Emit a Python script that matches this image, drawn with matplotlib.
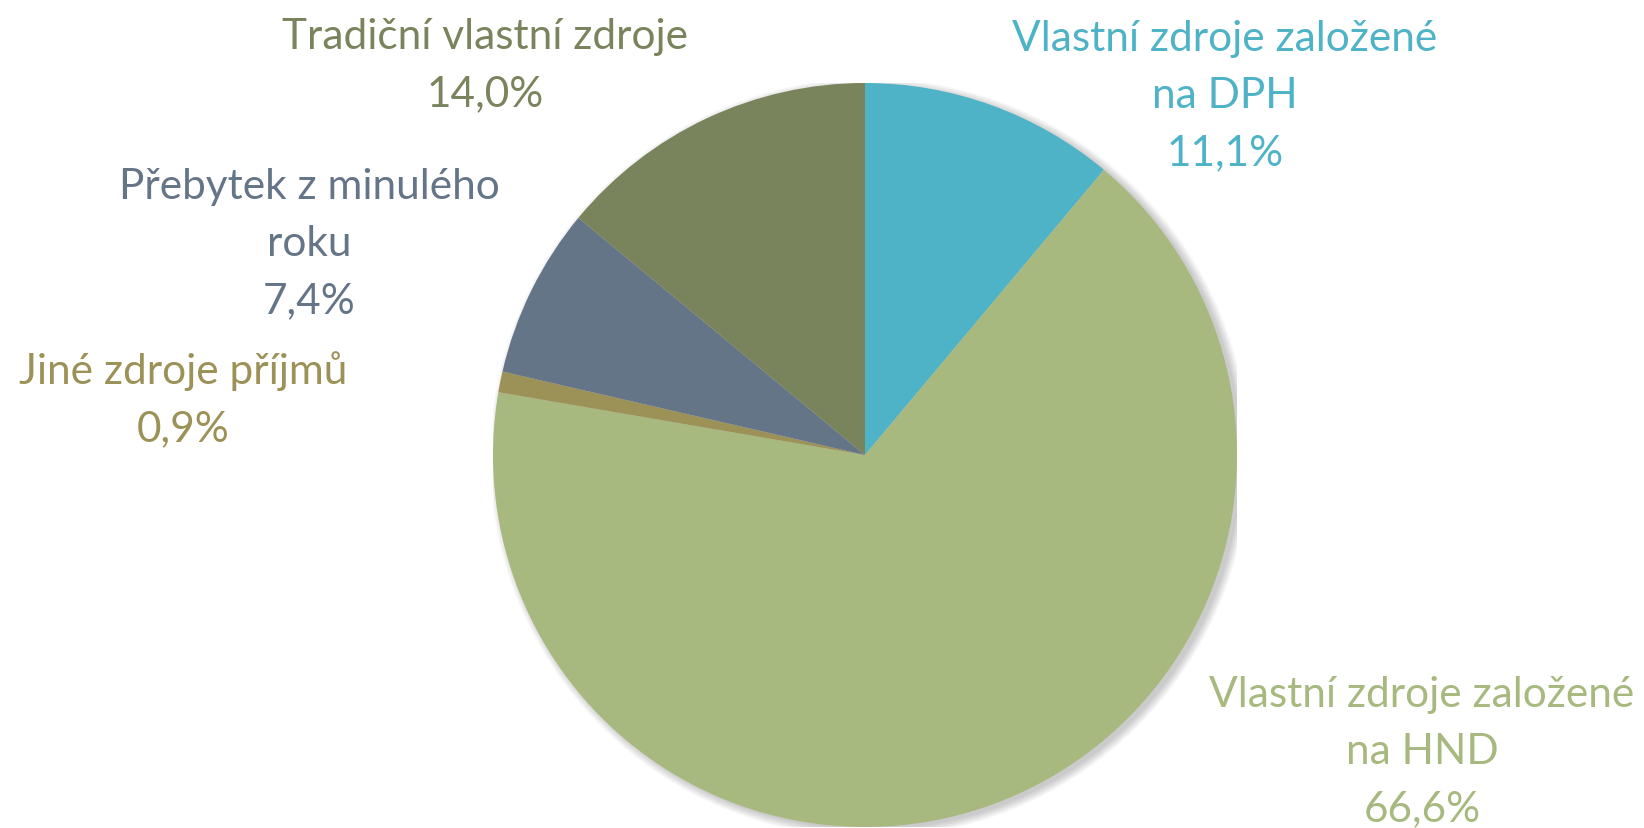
import matplotlib.pyplot as plt
from matplotlib.patches import Circle

labels = ["Vlastní zdroje založené\nna DPH", "Vlastní zdroje založené\nna HND",
          "Jiné zdroje příjmů", "Přebytek z minulého\nroku", "Tradiční vlastní zdroje"]
shares = [11.1, 66.6, 0.9, 7.4, 14.0]
colors = ["#4FB3C8", "#A8B97F", "#9C9157", "#657588", "#7A845C"]
# label anchor (figure pixels, center of text block), tuned to the reference
label_pos = [(1225, 96), (1422, 752), (183, 400), (309, 244), (485, 66)]

W, H = 1644, 829
fig = plt.figure(figsize=(W / 100, H / 100), dpi=100)
cx, cy, r = 865, 456, 372
ax = fig.add_axes([(cx - r) / W, (H - cy - r) / H, 2 * r / W, 2 * r / H])

# soft drop shadow behind the whole pie
for k in range(6):
    ax.add_patch(Circle((0.012, -0.008), 1.0 + 0.004 * k, color="black",
                        alpha=0.035, lw=0, zorder=0))

ax.pie(shares, colors=colors, startangle=90, counterclock=False,
       radius=1, wedgeprops=dict(linewidth=0, zorder=2))
ax.set_xlim(-1, 1)
ax.set_ylim(-1, 1)
ax.set_aspect("equal")
ax.axis("off")

for lab, val, col, (px, py) in zip(labels, shares, colors, label_pos):
    txt = f"{lab}\n{val:.1f}%".replace(".", ",")
    fig.text(px / W, 1 - py / H, txt, ha="center", va="center", color=col,
             fontsize=30.5, family="Lato", linespacing=1.62)

fig.savefig("out.png", dpi=100)
